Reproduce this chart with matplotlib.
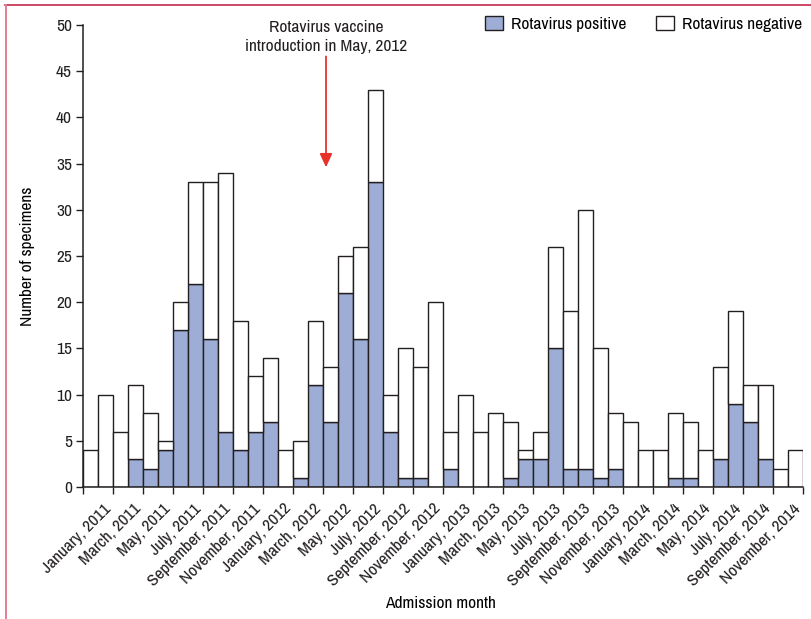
import matplotlib
matplotlib.use("Agg")
import matplotlib.pyplot as plt
from matplotlib import font_manager
from matplotlib.lines import Line2D
import numpy as np

# Monthly admissions, January 2011 to December 2014
months = ["January", "February", "March", "April", "May", "June", "July",
          "August", "September", "October", "November", "December"]
years = [2011, 2012, 2013, 2014]
month_labels = [f"{m}, {y}" for y in years for m in months]

total = [4, 10, 6, 11, 8, 5, 20, 33, 33, 34, 18, 12,
         14, 4, 5, 18, 13, 25, 26, 43, 10, 15, 13, 20,
         6, 10, 6, 8, 7, 4, 6, 26, 19, 30, 15, 8,
         7, 4, 4, 8, 7, 4, 13, 19, 11, 11, 2, 4]
positive = [0, 0, 0, 3, 2, 4, 17, 22, 16, 6, 4, 6,
            7, 0, 1, 11, 7, 21, 16, 33, 6, 1, 1, 0,
            2, 0, 0, 0, 1, 3, 3, 15, 2, 2, 1, 2,
            0, 0, 0, 1, 1, 0, 3, 9, 7, 3, 0, 0]
negative = [t - p for t, p in zip(total, positive)]

vaccine_month = "May, 2012"
yticks = list(range(0, 55, 5))

# Prefer a narrow sans face when one is available
fonts = font_manager.fontManager.ttflist
narrow = [f.name for f in fonts if "Narrow" in f.name or "Condensed" in f.name]
stretch = "normal"
size = 12.5
if narrow:
    family = sorted(narrow)[0]
elif any(f.name == "DejaVu Sans" and f.stretch in ("condensed", "semi-condensed")
         for f in fonts):
    family, stretch, size = "DejaVu Sans", "condensed", 11
else:
    family, size = "Roboto", 11
plt.rcParams["font.family"] = [family, "DejaVu Sans"]
plt.rcParams["font.stretch"] = stretch
plt.rcParams["font.size"] = size

POS_COLOR = "#9DADD5"
EDGE = "#231F20"
RED = "#E8312A"

fig = plt.figure(figsize=(8.11, 6.19), dpi=100)
ax = fig.add_axes([83 / 811, 1 - 487 / 619, (803 - 83) / 811, (487 - 25) / 619])

x = np.arange(len(total))
ax.bar(x, positive, width=1.0, color=POS_COLOR, edgecolor=EDGE, linewidth=1.0,
       label="Rotavirus positive")
ax.bar(x, negative, width=1.0, bottom=positive, color="white", edgecolor=EDGE,
       linewidth=1.0, label="Rotavirus negative")

ax.set_xlim(-0.5, len(total) - 0.5)
ax.set_ylim(0, 50)
ax.set_yticks(yticks)
ax.set_yticklabels([str(v) for v in yticks])

# Major ticks mark every other month boundary; labels sit on minor ticks
tick_pos = np.arange(-0.5, len(total), 2)
ax.set_xticks(tick_pos)
ax.set_xticklabels([])
label_pos = tick_pos[:-1] + 1.35
ax.set_xticks(label_pos, minor=True)
ax.set_xticklabels(month_labels[::2], minor=True, rotation=45, ha="right",
                   va="top", rotation_mode="anchor")

for side in ("top", "right"):
    ax.spines[side].set_visible(False)
for side in ("left", "bottom"):
    ax.spines[side].set_color(EDGE)
    ax.spines[side].set_linewidth(1.1)
ax.tick_params(axis="both", which="major", direction="out", length=5, width=1.0,
               color=EDGE, labelcolor=EDGE, pad=3)
ax.tick_params(axis="x", which="minor", length=0, pad=10, labelcolor=EDGE)

ax.set_ylabel("Number of specimens")
ax.yaxis.set_label_coords(-0.066, 0.5)
ax.set_xlabel("Admission month")
ax.xaxis.set_label_coords(0.497, -0.236)

# Vaccine introduction marker
vx = month_labels.index(vaccine_month) - 0.3
ax.annotate("", xy=(vx, 34.6), xytext=(vx, 46.6),
            arrowprops=dict(arrowstyle="-|>,head_length=0.65,head_width=0.3",
                            color=RED, lw=1.3, shrinkA=0, shrinkB=0))
ax.text(vx, 48.7, "Rotavirus vaccine\nintroduction in May, 2012", ha="center",
        va="center", linespacing=1.4, color=EDGE)

ax.legend(loc="upper right", bbox_to_anchor=(1.009, 1.034), ncol=2,
          frameon=False, handlelength=1.0, handleheight=0.8,
          handletextpad=0.5, columnspacing=1.7, borderaxespad=0)

# Figure border
fig.add_artist(Line2D([5 / 811, 1], [1 - 5 / 619, 1 - 5 / 619],
                      transform=fig.transFigure, color="#C42A4C", lw=1.2))
fig.add_artist(Line2D([5.5 / 811, 5.5 / 811], [0, 1 - 5 / 619],
                      transform=fig.transFigure, color="#E27F98", lw=1.4))

fig.savefig("out.png", dpi=100)
